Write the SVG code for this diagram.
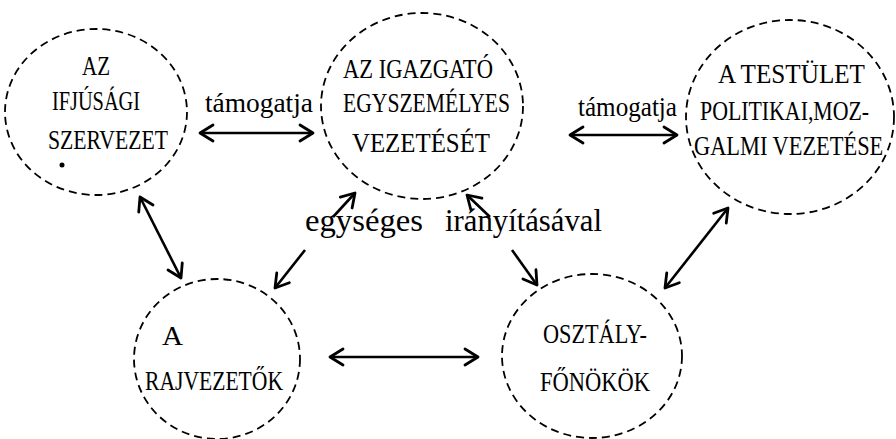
<svg xmlns="http://www.w3.org/2000/svg" width="896" height="439" viewBox="0 0 896 439">
<style>
.bg{fill:#fff}
.node ellipse{fill:none;stroke:#000;stroke-width:1.8;stroke-dasharray:8 5}
.node text{font-family:"Liberation Serif","DejaVu Serif",serif;font-size:28px;fill:#000}
.lbl{font-family:"Liberation Serif","DejaVu Serif",serif;font-size:27px;fill:#000}
.lbl2{font-family:"Liberation Serif","DejaVu Serif",serif;font-size:32px;fill:#000}
.conn line{stroke:#000;stroke-width:2.6;fill:none}
</style>
<defs>
<marker id="ah" markerUnits="userSpaceOnUse" markerWidth="22" markerHeight="22" viewBox="0 0 22 22" refX="18" refY="11" orient="auto-start-reverse">
<path d="M5,3 L18,11 L5,19" fill="none" stroke="#000" stroke-width="2.8" stroke-linecap="round" stroke-linejoin="round"/>
</marker>
</defs>
<rect class="bg" x="0" y="0" width="896" height="439"/>
<g id="n1" class="node">
<ellipse cx="96" cy="112" rx="91" ry="83"/>
<text x="82" y="75" textLength="28" lengthAdjust="spacingAndGlyphs">AZ</text>
<text x="52" y="110" textLength="88" lengthAdjust="spacingAndGlyphs">IFJÚSÁGI</text>
<text x="48" y="149" textLength="120" lengthAdjust="spacingAndGlyphs">SZERVEZET</text>
<circle cx="62" cy="165" r="2.5" fill="#000"/>
</g>
<g id="n2" class="node">
<ellipse cx="422" cy="106" rx="101" ry="93"/>
<text x="343" y="78" textLength="150" lengthAdjust="spacingAndGlyphs">AZ IGAZGATÓ</text>
<text x="343" y="112" textLength="167" lengthAdjust="spacingAndGlyphs">EGYSZEMÉLYES</text>
<text x="352" y="152" textLength="138" lengthAdjust="spacingAndGlyphs">VEZETÉSÉT</text>
</g>
<g id="n3" class="node">
<ellipse cx="790" cy="117" rx="104" ry="97"/>
<text x="718" y="83" textLength="147" lengthAdjust="spacingAndGlyphs">A TESTÜLET</text>
<text transform="translate(700,120) scale(0.78,1)" x="0" y="0">POLITIKAI,MOZ-</text>
<text transform="translate(694,155) scale(0.8,1)" x="0" y="0">GALMI VEZETÉSE</text>
</g>
<g id="n4" class="node">
<ellipse cx="217" cy="359" rx="83" ry="80"/>
<text x="162" y="345" textLength="21" lengthAdjust="spacingAndGlyphs">A</text>
<text x="145" y="390" textLength="138" lengthAdjust="spacingAndGlyphs">RAJVEZETŐK</text>
</g>
<g id="n5" class="node">
<ellipse cx="592" cy="356" rx="90" ry="82"/>
<text x="543" y="343" textLength="104" lengthAdjust="spacingAndGlyphs">OSZTÁLY-</text>
<text x="540" y="391" textLength="110" lengthAdjust="spacingAndGlyphs">FŐNÖKÖK</text>
</g>
<g id="connectors" class="conn">
<line x1="200" y1="133" x2="313" y2="133" marker-start="url(#ah)" marker-end="url(#ah)"/>
<line x1="570" y1="135" x2="677" y2="135" marker-start="url(#ah)" marker-end="url(#ah)"/>
<line x1="140" y1="197" x2="181" y2="278" marker-start="url(#ah)" marker-end="url(#ah)"/>
<line x1="305" y1="250" x2="275" y2="288" marker-end="url(#ah)"/>
<line x1="333" y1="217" x2="355" y2="193" marker-end="url(#ah)"/>
<line x1="490" y1="217" x2="467" y2="195" marker-end="url(#ah)"/>
<line x1="512" y1="250" x2="537" y2="285" marker-end="url(#ah)"/>
<line x1="665" y1="288" x2="728" y2="208" marker-start="url(#ah)" marker-end="url(#ah)"/>
<line x1="330" y1="357" x2="478" y2="357" marker-start="url(#ah)" marker-end="url(#ah)"/>
<text class="lbl" x="205" y="112" textLength="108" lengthAdjust="spacingAndGlyphs">támogatja</text>
<text class="lbl" x="578" y="116" textLength="99" lengthAdjust="spacingAndGlyphs">támogatja</text>
<text class="lbl2" x="305" y="231" textLength="118" lengthAdjust="spacingAndGlyphs">egységes</text>
<text class="lbl2" x="445" y="231" textLength="157" lengthAdjust="spacingAndGlyphs">irányításával</text>
</g>
</svg>
